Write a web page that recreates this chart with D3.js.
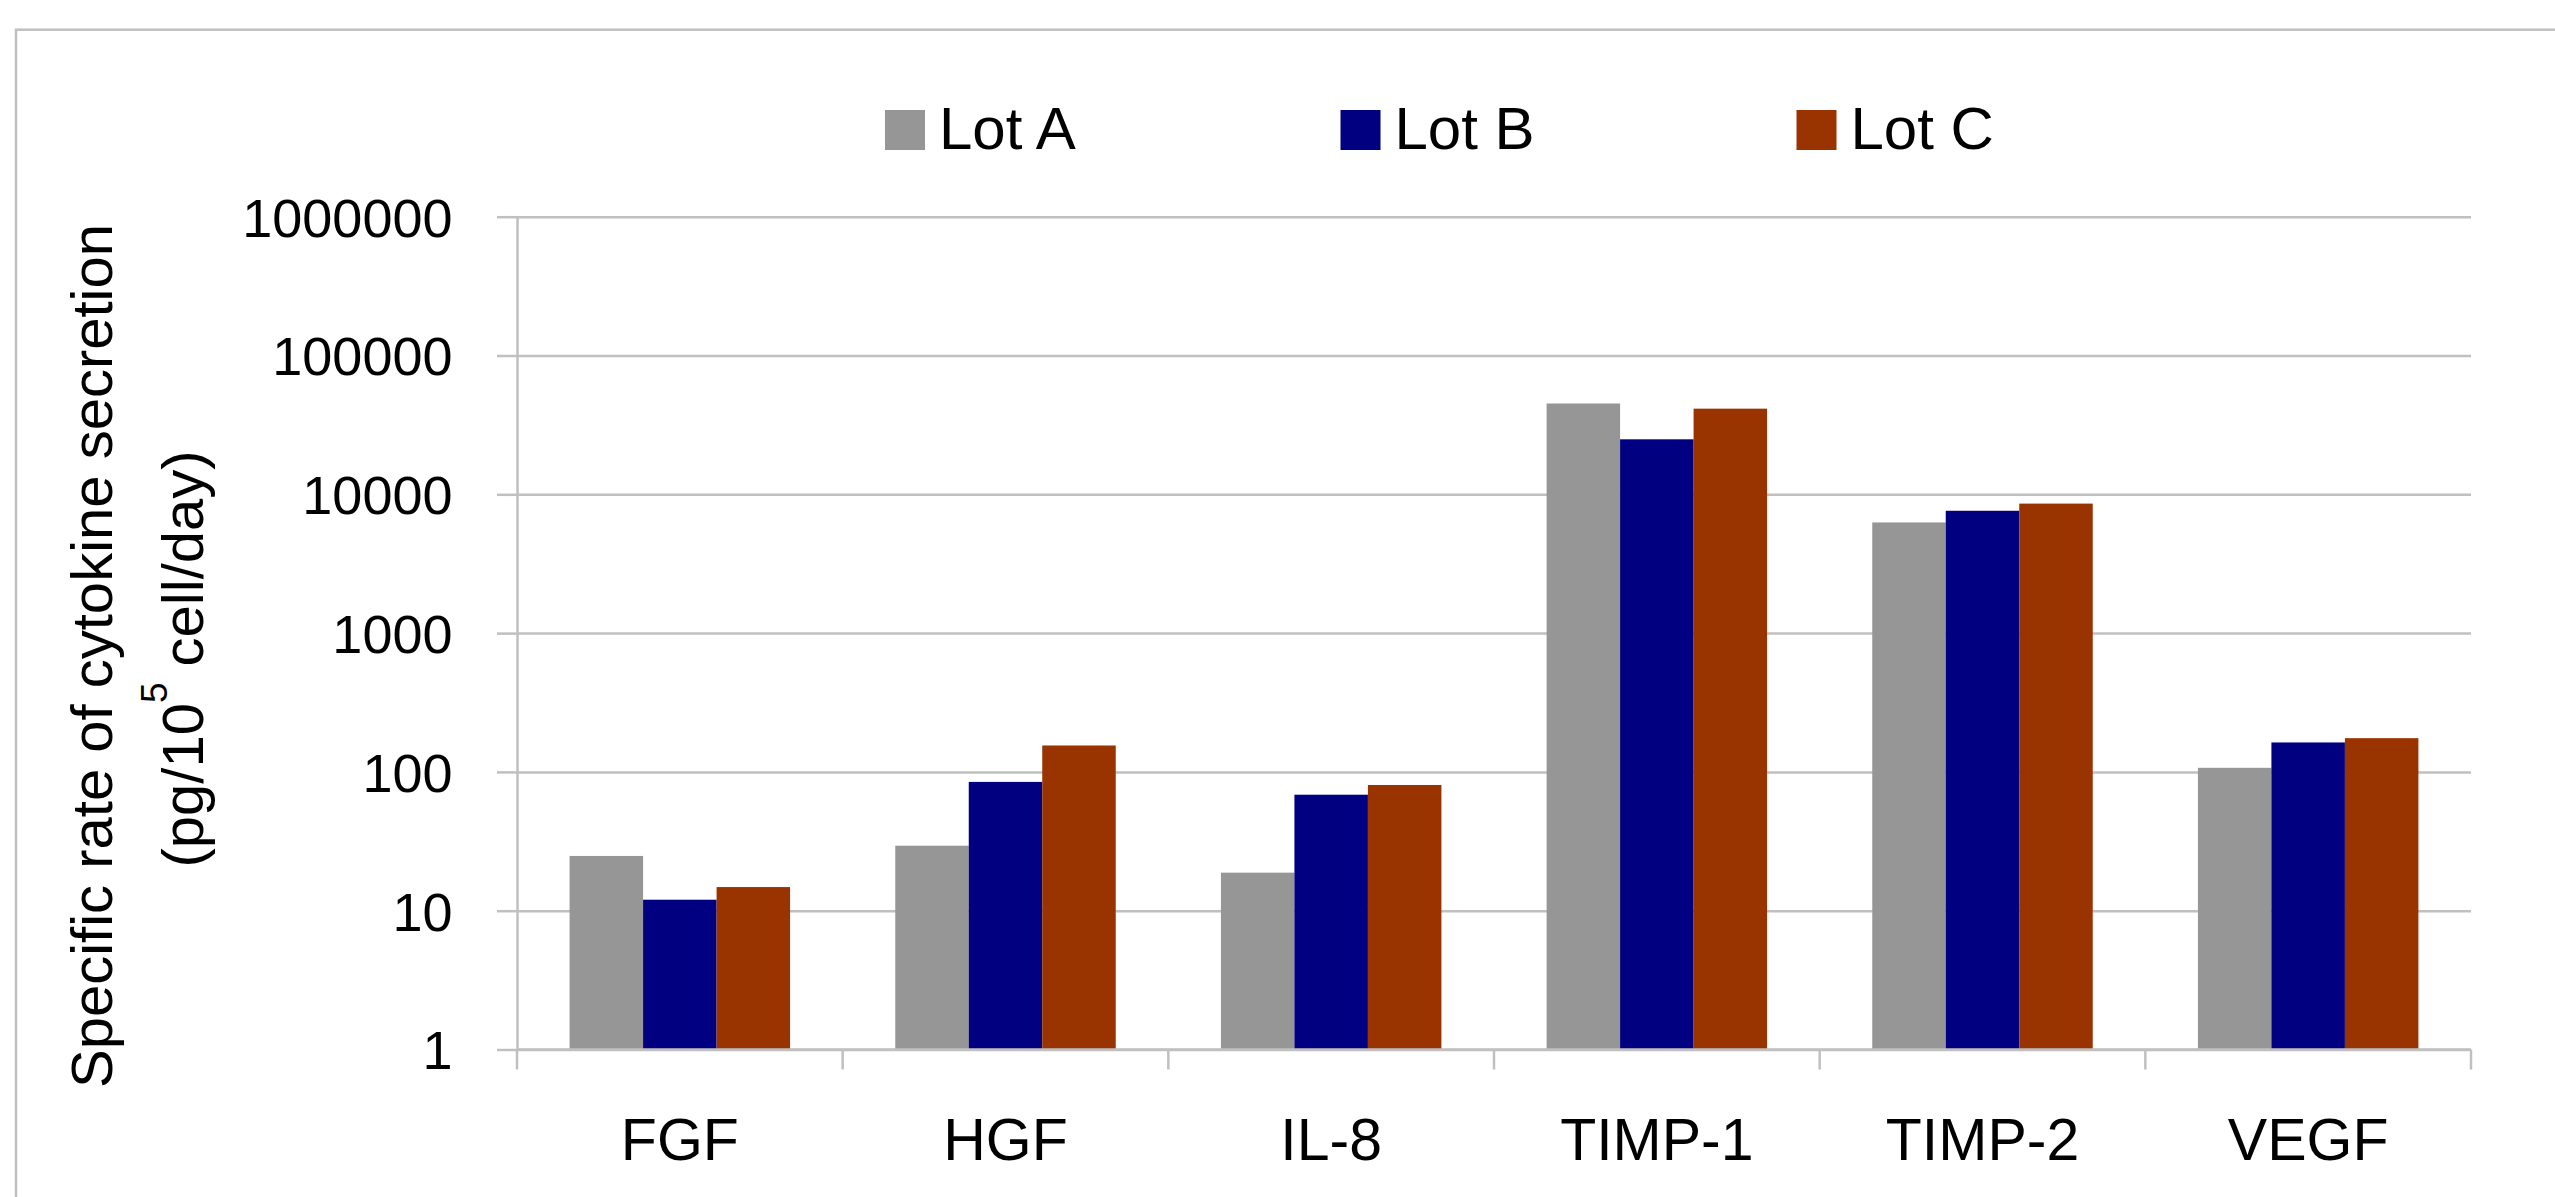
<!DOCTYPE html>
<html>
<head>
<meta charset="utf-8">
<script src="https://cdn.jsdelivr.net/npm/d3@7"></script>
<style>
  html, body { margin: 0; padding: 0; background: #ffffff; }
  svg { display: block; }
  text { font-family: "Liberation Sans", Arial, Helvetica, sans-serif; fill: #000; }
</style>
</head>
<body>
<svg id="chart" width="2555" height="1197"></svg>
<script>
// Cytokine secretion rates per lot (pg / 10^5 cells / day)
const categories = ["FGF", "HGF", "IL-8", "TIMP-1", "TIMP-2", "VEGF"];
const lots = ["Lot A", "Lot B", "Lot C"];
const lotA = [24.8, 29.4, 18.8, 45100, 6270, 107];
const lotB = [12.0, 84.7, 68.5, 24900, 7610, 163];
const lotC = [14.8, 155, 80.5, 41400, 8570, 175];
const yTicks = [1, 10, 100, 1000, 10000, 100000, 1000000];
const colors = ["#969696", "#000080", "#993300"];

(function draw() {
  const series = [lotA, lotB, lotC];
  const rows = categories.map((c, i) => ({ cat: c, vals: series.map((s, k) => ({ lot: lots[k], v: s[i] })) }));

  const svg = d3.select("#chart");
  const gridColor = "#c0c0c0";

  // Outer chart frame
  svg.append("rect")
    .attr("x", 16).attr("y", 29.7)
    .attr("width", 2700).attr("height", 1400)
    .attr("fill", "none").attr("stroke", gridColor).attr("stroke-width", 2.5);

  // Plot area bounds
  const plotLeft = 517, plotRight = 2471, plotTop = 216.7, plotBottom = 1049.5;

  const y = d3.scaleLog().domain([1, 1000000]).range([plotBottom, plotTop]);
  const x0 = d3.scaleBand().domain(categories).range([plotLeft, plotRight]).padding(0);
  const bw = x0.bandwidth();
  const x1 = d3.scaleBand().domain(lots).range([bw * 0.1615, bw * 0.8385]).padding(0);
  const color = d3.scaleOrdinal().domain(lots).range(colors);

  // Horizontal gridlines
  const grid = svg.append("g").attr("transform", `translate(${plotLeft},0)`)
    .call(d3.axisLeft(y).tickValues(yTicks).tickSize(-(plotRight - plotLeft)).tickFormat(""));
  grid.select(".domain").remove();
  grid.selectAll("line").attr("stroke", gridColor).attr("stroke-width", 2.5);

  // Bars
  const groups = svg.append("g").selectAll("g").data(rows).join("g")
    .attr("transform", d => `translate(${x0(d.cat)},0)`);
  groups.selectAll("rect").data(d => d.vals).join("rect")
    .attr("x", d => x1(d.lot))
    .attr("width", x1.bandwidth())
    .attr("y", d => y(d.v))
    .attr("height", d => y(1) - y(d.v))
    .attr("fill", d => color(d.lot));

  // Y axis with labels
  const yAxis = svg.append("g").attr("transform", `translate(${plotLeft},0)`)
    .call(d3.axisLeft(y).tickValues(yTicks).tickSizeInner(20).tickSizeOuter(0)
      .tickPadding(44.5).tickFormat(d3.format("d")));
  yAxis.select(".domain").attr("stroke", gridColor).attr("stroke-width", 2.5);
  yAxis.selectAll(".tick line").attr("stroke", gridColor).attr("stroke-width", 2.5);
  yAxis.selectAll(".tick text")
    .attr("font-size", 54).attr("dy", "0.36em")
    .style("font-family", "'Liberation Sans', Arial, sans-serif");

  // X axis: category labels
  const xAxis = svg.append("g").attr("transform", `translate(0,${plotBottom})`)
    .call(d3.axisBottom(x0).tickSize(0).tickPadding(69));
  xAxis.select(".domain").remove();
  xAxis.selectAll(".tick text")
    .attr("font-size", 59).attr("dy", "0.71em")
    .style("font-family", "'Liberation Sans', Arial, sans-serif");

  // X axis line and boundary tick marks
  const boundaries = categories.map(c => x0(c)).concat([x0(categories[categories.length - 1]) + bw]);
  svg.append("line")
    .attr("x1", plotLeft).attr("x2", plotRight).attr("y1", plotBottom).attr("y2", plotBottom)
    .attr("stroke", gridColor).attr("stroke-width", 2.5);
  svg.append("g").selectAll("line").data(boundaries).join("line")
    .attr("x1", d => d).attr("x2", d => d)
    .attr("y1", plotBottom).attr("y2", plotBottom + 20)
    .attr("stroke", gridColor).attr("stroke-width", 2.5);

  // Legend
  const legendX = [885, 1340.5, 1796.5];
  const legend = svg.append("g").selectAll("g").data(lots).join("g")
    .attr("transform", (d, i) => `translate(${legendX[i]},110)`);
  legend.append("rect").attr("width", 40).attr("height", 40).attr("fill", d => color(d));
  legend.append("text").attr("x", 54).attr("y", 39).attr("font-size", 60).text(d => d);

  // Y axis title (two rotated lines)
  svg.append("text")
    .attr("transform", "translate(111.7,656) rotate(-90)")
    .attr("text-anchor", "middle").attr("font-size", 58)
    .text("Specific rate of cytokine secretion");

  const t2 = svg.append("text")
    .attr("transform", "translate(203.3,659) rotate(-90)")
    .attr("text-anchor", "middle").attr("font-size", 58);
  t2.append("tspan").text("(pg/10");
  t2.append("tspan").attr("font-size", 37).attr("dy", -36.6).text("5");
  t2.append("tspan").attr("dy", 36.6).text(" cell/day)");
})();
</script>
</body>
</html>
